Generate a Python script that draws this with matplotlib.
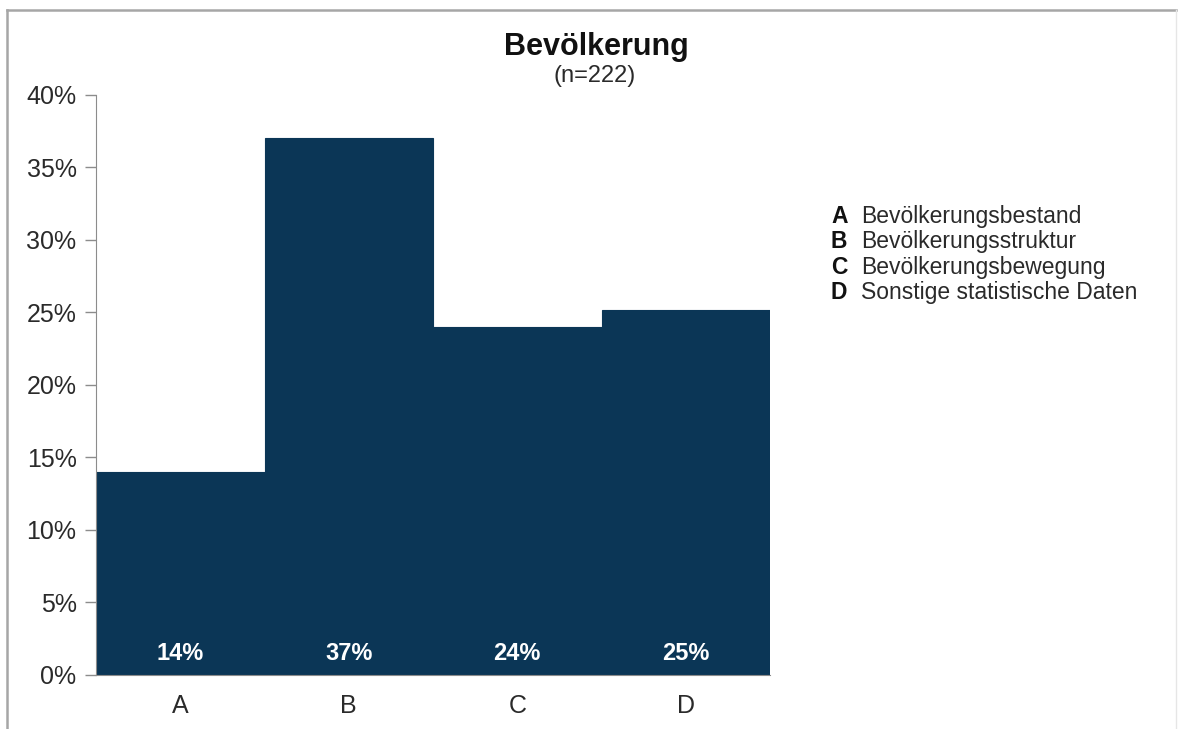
import matplotlib
matplotlib.use('Agg')
import matplotlib.pyplot as plt
from matplotlib.lines import Line2D
from matplotlib.ticker import FuncFormatter

plt.rcParams['font.family'] = ['Liberation Sans', 'DejaVu Sans']

# Data
categories = ['A', 'B', 'C', 'D']
values = [14.0, 37.0, 24.0, 25.2]
bar_labels = ['14%', '37%', '24%', '25%']
legend_names = ['Bevölkerungsbestand', 'Bevölkerungsstruktur',
                'Bevölkerungsbewegung', 'Sonstige statistische Daten']

BAR_COLOR = '#0b3656'
TEXT_COLOR = '#2a2a2a'

fig = plt.figure(figsize=(11.78, 7.29), dpi=100)
fig.patch.set_facecolor('white')
ax = fig.add_axes([0.0815, 0.0741, 0.5722, 0.7956])

x = list(range(len(categories)))
ax.bar(x, values, width=1.0, color=BAR_COLOR, edgecolor=BAR_COLOR, linewidth=0.8)

# value labels at the bottom of each bar
for xi, lab in zip(x, bar_labels):
    ax.text(xi, 1.45, lab, ha='center', va='center', color='white',
            fontsize=17, fontweight='bold')

ax.set_xlim(-0.5, len(categories) - 0.5)
ax.set_ylim(0, 40)
ax.set_yticks(range(0, 41, 5))
ax.yaxis.set_major_formatter(FuncFormatter(lambda v, p: f'{int(v)}%'))
ax.set_xticks(x)
ax.set_xticklabels(categories)
ax.tick_params(axis='y', direction='out', length=8, width=1, color='#8c8c8c',
               labelsize=18, labelcolor=TEXT_COLOR, pad=6)
ax.tick_params(axis='x', length=0, labelsize=18, labelcolor=TEXT_COLOR, pad=14)

for side in ['top', 'right']:
    ax.spines[side].set_visible(False)
ax.spines['left'].set_color('#8c8c8c')
ax.spines['bottom'].set_color('#8c8c8c')

# Title
fig.text(0.506, 0.9246, 'Bevölkerung', ha='center', va='baseline',
         fontsize=22, fontweight='bold', color='#111111')
fig.text(0.505, 0.887, '(n=222)', ha='center', va='baseline',
         fontsize=17, color=TEXT_COLOR)

# Legend text block
y0 = 0.694
dy = 0.0347
for i, (cat, name) in enumerate(zip(categories, legend_names)):
    yy = y0 - i * dy
    fig.text(0.7054, yy, cat, ha='left', va='baseline', fontsize=16.5,
             fontweight='bold', color='#111111')
    fig.text(0.731, yy, name, ha='left', va='baseline', fontsize=16.5,
             color=TEXT_COLOR)

# Frame border (top, left, right)
border = '#a6a6a6'
fig.add_artist(Line2D([0.006, 0.998], [0.986, 0.986], transform=fig.transFigure,
                      color=border, linewidth=1.8))
fig.add_artist(Line2D([0.006, 0.006], [0.0, 0.986], transform=fig.transFigure,
                      color=border, linewidth=1.8))
fig.add_artist(Line2D([0.998, 0.998], [0.0, 0.986], transform=fig.transFigure,
                      color='#e6e6e6', linewidth=1.0))

fig.savefig('out.png', dpi=100, facecolor='white')
plt.close(fig)
